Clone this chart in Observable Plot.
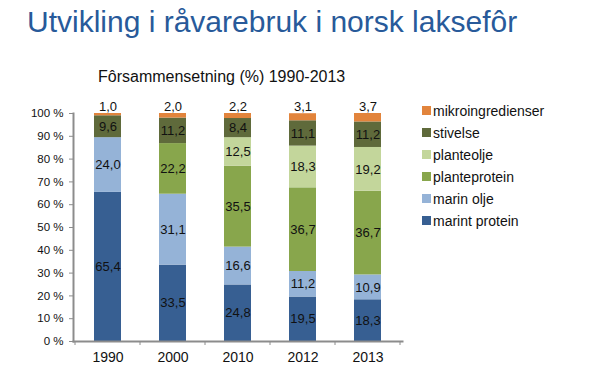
<!DOCTYPE html>
<html>
<head>
<meta charset="utf-8">
<script src="https://cdn.jsdelivr.net/npm/d3@7"></script>
<script src="https://cdn.jsdelivr.net/npm/@observablehq/plot@0.6"></script>
<style>
  body { margin: 0; background: #fff; font-family: "Liberation Sans", Arial, sans-serif; }
  #wrap { position: relative; width: 603px; height: 380px; overflow: hidden; }
  #title { position: absolute; left: 27px; top: 6.5px; font-size: 30px; line-height: 1; color: #285a9a; white-space: nowrap; }
  #subtitle { position: absolute; left: 98px; top: 68.5px; font-size: 16px; line-height: 1; color: #111; white-space: nowrap; }
  #chart { position: absolute; left: 0; top: 95px; }
  #legend { position: absolute; left: 422px; top: 0; }
  .lg { position: absolute; left: 0; white-space: nowrap; font-size: 14px; line-height: 1; color: #111; }
  .lg span.sw { position: absolute; left: 0; width: 9px; height: 9px; }
  .lg span.tx { position: absolute; left: 11px; }
</style>
</head>
<body>
<div id="wrap">
  <div id="title">Utvikling i råvarebruk i norsk laksefôr</div>
  <div id="subtitle">Fôrsammensetning (%) 1990-2013</div>
  <div id="chart"></div>
  <div id="legend"></div>
</div>
<script>
const years = ["1990", "2000", "2010", "2012", "2013"];
const seriesNames = ["marint protein", "marin olje", "planteprotein", "planteolje", "stivelse", "mikroingredienser"];
const seriesColors = ["#375f92", "#95b3d7", "#88a64c", "#c3d69b", "#5f6a3b", "#e2843c"];
const marintProtein = [65.4, 33.5, 24.8, 19.5, 18.3];
const marinOlje = [24.0, 31.1, 16.6, 11.2, 10.9];
const planteprotein = [0, 22.2, 35.5, 36.7, 36.7];
const planteolje = [0, 0, 12.5, 18.3, 19.2];
const stivelse = [9.6, 11.2, 8.4, 11.1, 11.2];
const mikroingredienser = [1.0, 2.0, 2.2, 3.1, 3.7];
const yTicks = [0, 10, 20, 30, 40, 50, 60, 70, 80, 90, 100];

const seriesValues = [marintProtein, marinOlje, planteprotein, planteolje, stivelse, mikroingredienser];
const data = [];
seriesNames.forEach((s, i) => years.forEach((y, j) => data.push({year: y, series: s, value: seriesValues[i][j]})));

const fmt = v => d3.format(".1f")(v).replace(".", ",");
const TOP = "mikroingredienser";

const boundaryTicks = (index, scales, values, dims) => {
  const x = scales.x;
  const step = x(years[1]) - x(years[0]);
  const bw = typeof x.bandwidth === "function" ? x.bandwidth() : (+x.bandwidth || 0);
  const g = d3.create("svg:g");
  const y0 = dims.height - dims.marginBottom;
  const xs = years.map(y => x(y) + bw / 2 - step / 2);
  xs.push(x(years[years.length - 1]) + bw / 2 + step / 2);
  xs.filter(v => isFinite(v)).forEach(v => g.append("line").attr("x1", v).attr("x2", v).attr("y1", y0).attr("y2", y0 + 4)
    .attr("stroke", "#8c8c8c").attr("stroke-width", 1));
  return g.node();
};

const chart = Plot.plot({
  width: 603,
  height: 285,
  marginLeft: 73,
  marginRight: 201,
  marginTop: 18,
  marginBottom: 39,
  style: {fontFamily: "'Liberation Sans', Arial, sans-serif", color: "#111", background: "transparent"},
  x: {type: "band", domain: years, paddingInner: 0.59, paddingOuter: 0.295, label: null},
  y: {domain: [0, 100], label: null},
  color: {domain: seriesNames, range: seriesColors},
  marks: [
    Plot.barY(data, Plot.stackY({x: "year", y: "value", z: "series", order: seriesNames, fill: "series"})),
    Plot.text(data, Plot.stackY({x: "year", y: "value", z: "series", order: seriesNames,
      text: d => (d.value > 0 && d.series !== TOP) ? fmt(d.value) : "", fontSize: 13, fill: "#111"})),
    Plot.text(data, Plot.stackY2({x: "year", y: "value", z: "series", order: seriesNames,
      text: d => d.series === TOP ? fmt(d.value) : "", fontSize: 13, fill: "#111", dy: -7})),
    Plot.axisY({ticks: yTicks, tickFormat: d => d + " %", tickSize: 4, tickPadding: 6, fontSize: 11.5, stroke: "#8c8c8c", fill: "#111", label: null}),
    Plot.axisX({tickSize: 0, tickPadding: 11, fontSize: 14, fill: "#111", label: null}),
    Plot.frame({anchor: "left", stroke: "#8c8c8c", strokeWidth: 2}),
    Plot.frame({anchor: "bottom", stroke: "#8c8c8c", strokeWidth: 2}),
    boundaryTicks
  ]
});
document.getElementById("chart").appendChild(chart);

const legend = document.getElementById("legend");
const legendOrder = seriesNames.slice().reverse();
legendOrder.forEach((s, i) => {
  const row = document.createElement("div");
  row.className = "lg";
  const c = 110.7 + i * 22;
  row.style.top = (c - 4.5) + "px";
  const sw = document.createElement("span");
  sw.className = "sw";
  sw.style.top = "0px";
  sw.style.background = seriesColors[seriesNames.indexOf(s)];
  const tx = document.createElement("span");
  tx.className = "tx";
  tx.style.top = "-2.5px";
  tx.textContent = s;
  row.appendChild(sw);
  row.appendChild(tx);
  legend.appendChild(row);
});
</script>
</body>
</html>
